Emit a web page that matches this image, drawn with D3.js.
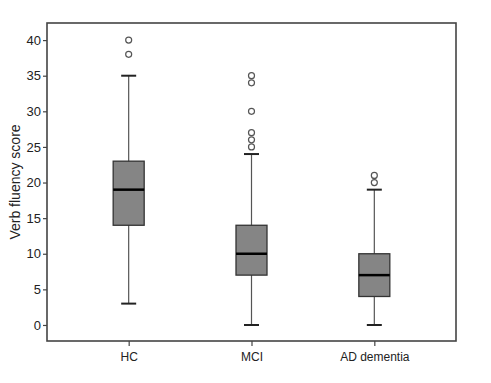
<!DOCTYPE html>
<html>
<head>
<meta charset="utf-8">
<script src="https://cdn.jsdelivr.net/npm/d3@7"></script>
<style>
  body { margin: 0; background: #fff; }
  svg { display: block; font-family: "Liberation Sans", Arial, sans-serif; }
</style>
</head>
<body>
<svg class="chart"></svg>
<script>
var groups = ['HC', 'MCI', 'AD dementia'];
var lowWhisker = [3, 0, 0];
var q1 = [14, 7, 4];
var median = [19, 10, 7];
var q3 = [23, 14, 10];
var highWhisker = [35, 24, 19];
var outliers = [
  [38, 40],
  [25, 26, 27, 30, 34, 35],
  [20, 21]
];
var yTicks = [0, 5, 10, 15, 20, 25, 30, 35, 40];

var width = 491, height = 383;
var margin = { top: 23, right: 35, bottom: 42, left: 47 };

var svg = d3.select('svg.chart')
  .attr('width', width)
  .attr('height', height);

var x = d3.scalePoint()
  .domain(groups)
  .range([margin.left, width - margin.right])
  .padding(0.665);

var y = d3.scaleLinear()
  .domain([-2.25, 42.4])
  .range([height - margin.bottom, margin.top]);

var boxW = 31, capW = 15;

var data = groups.map(function (g, i) {
  return {
    name: g, lo: lowWhisker[i], q1: q1[i], med: median[i],
    q3: q3[i], hi: highWhisker[i], out: outliers[i]
  };
});

// axes
var yAxis = svg.append('g')
  .attr('transform', 'translate(' + margin.left + ',0)')
  .call(d3.axisLeft(y).tickValues(yTicks).tickSize(4).tickPadding(2));
yAxis.select('.domain').remove();
yAxis.selectAll('line').attr('stroke', '#444').attr('stroke-width', 1.2);
yAxis.selectAll('text').attr('font-size', 13).attr('fill', '#222');

var xAxis = svg.append('g')
  .attr('transform', 'translate(0,' + (height - margin.bottom) + ')')
  .call(d3.axisBottom(x).tickSize(5).tickPadding(6));
xAxis.select('.domain').remove();
xAxis.selectAll('line').attr('stroke', '#444').attr('stroke-width', 1.2);
xAxis.selectAll('text').attr('font-size', 12).attr('fill', '#222');

svg.append('text')
  .attr('transform', 'translate(20,' + ((margin.top + height - margin.bottom) / 2) + ') rotate(-90)')
  .attr('text-anchor', 'middle')
  .attr('font-size', 14)
  .attr('fill', '#222')
  .text('Verb fluency score');

// boxes
var box = svg.selectAll('g.box')
  .data(data)
  .enter().append('g')
  .attr('class', 'box');

box.append('line')
  .attr('x1', function (d) { return x(d.name); })
  .attr('x2', function (d) { return x(d.name); })
  .attr('y1', function (d) { return y(d.lo); })
  .attr('y2', function (d) { return y(d.hi); })
  .attr('stroke', '#555')
  .attr('stroke-width', 1.2);

box.selectAll('line.cap')
  .data(function (d) { return [[d.name, d.lo], [d.name, d.hi]]; })
  .enter().append('line')
  .attr('class', 'cap')
  .attr('x1', function (d) { return x(d[0]) - capW / 2; })
  .attr('x2', function (d) { return x(d[0]) + capW / 2; })
  .attr('y1', function (d) { return y(d[1]); })
  .attr('y2', function (d) { return y(d[1]); })
  .attr('stroke', '#222')
  .attr('stroke-width', 2);

box.append('rect')
  .attr('x', function (d) { return x(d.name) - boxW / 2; })
  .attr('width', boxW)
  .attr('y', function (d) { return y(d.q3); })
  .attr('height', function (d) { return y(d.q1) - y(d.q3); })
  .attr('fill', '#858585')
  .attr('stroke', '#333')
  .attr('stroke-width', 1.3);

box.append('line')
  .attr('x1', function (d) { return x(d.name) - boxW / 2; })
  .attr('x2', function (d) { return x(d.name) + boxW / 2; })
  .attr('y1', function (d) { return y(d.med); })
  .attr('y2', function (d) { return y(d.med); })
  .attr('stroke', '#000')
  .attr('stroke-width', 2.5);

box.selectAll('circle')
  .data(function (d) { return d.out.map(function (v) { return [d.name, v]; }); })
  .enter().append('circle')
  .attr('cx', function (d) { return x(d[0]); })
  .attr('cy', function (d) { return y(d[1]); })
  .attr('r', 3)
  .attr('fill', 'none')
  .attr('stroke', '#555')
  .attr('stroke-width', 1.2);

// frame
svg.append('rect')
  .attr('x', margin.left)
  .attr('y', margin.top)
  .attr('width', width - margin.left - margin.right)
  .attr('height', height - margin.top - margin.bottom)
  .attr('fill', 'none')
  .attr('stroke', '#444')
  .attr('stroke-width', 1.6);
</script>
</body>
</html>
